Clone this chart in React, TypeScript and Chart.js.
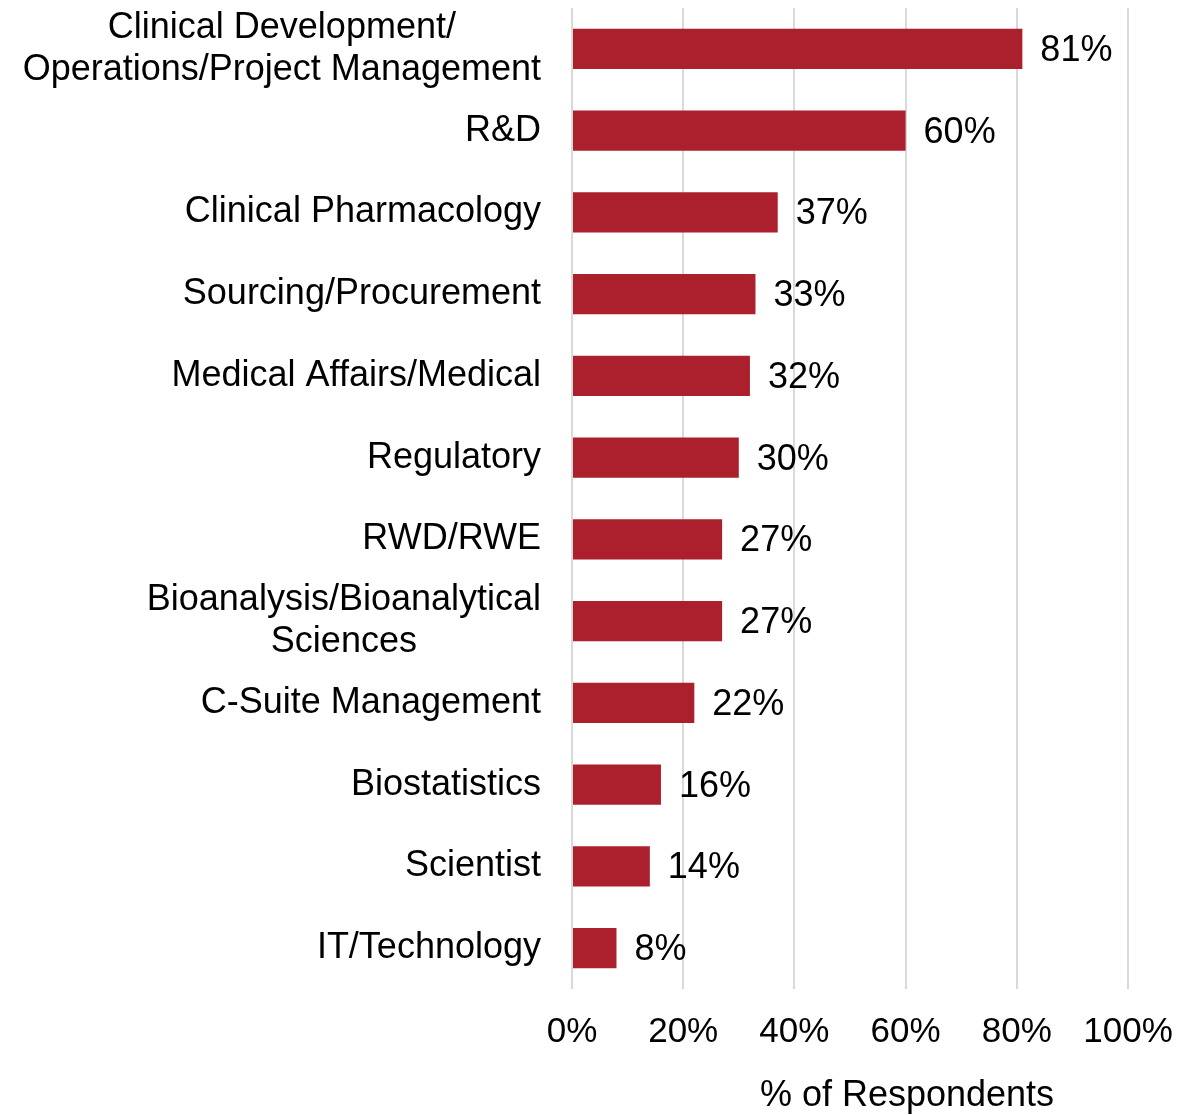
import React, { useEffect, useRef } from "react";
import { Chart, registerables } from "chart.js";

Chart.register(...registerables);

const categories: string[][] = [
  ["Clinical Development/", "Operations/Project Management"],
  ["R&D"],
  ["Clinical Pharmacology"],
  ["Sourcing/Procurement"],
  ["Medical Affairs/Medical"],
  ["Regulatory"],
  ["RWD/RWE"],
  ["Bioanalysis/Bioanalytical", "Sciences"],
  ["C-Suite Management"],
  ["Biostatistics"],
  ["Scientist"],
  ["IT/Technology"],
];
const values: number[] = [81, 60, 37, 33, 32, 30, 27, 27, 22, 16, 14, 8];
const xTicks: number[] = [0, 20, 40, 60, 80, 100];
const axisTitle = "% of Respondents";

const FONT = "'Liberation Sans', Arial, sans-serif";
const FS = 36;
const TICK_FS = 35;

export default function App() {
  const ref = useRef<HTMLCanvasElement | null>(null);
  useEffect(() => {
    if (!ref.current) return;
    const labelsPlugin = {
      id: "customText",
      afterDraw(chart: any) {
        const ctx = chart.ctx;
        const xs = chart.scales.x;
        const ys = chart.scales.y;
        ctx.save();
        ctx.font = `${FS}px ${FONT}`;
        ctx.fillStyle = "#000";
        ctx.textBaseline = "middle";
        // category labels
        const right = chart.chartArea.left - 31;
        const lh = 42;
        categories.forEach((lines, i) => {
          const cy = ys.getPixelForValue(i);
          const maxW = Math.max(...lines.map((l) => ctx.measureText(l).width));
          const cx = right - maxW / 2;
          ctx.textAlign = "center";
          lines.forEach((l, j) => {
            const y = cy + (j - (lines.length - 1) / 2) * lh;
            ctx.fillText(l, cx, y);
          });
        });
        // value labels
        ctx.textAlign = "left";
        values.forEach((v, i) => {
          ctx.fillText(v + "%", xs.getPixelForValue(v) + 18, ys.getPixelForValue(i) + 2);
        });
        // axis title
        ctx.textAlign = "center";
        ctx.fillText(axisTitle, 907, 1096);
        ctx.restore();
      },
    };
    const chart = new Chart(ref.current, {
      type: "bar",
      data: {
        labels: categories.map((c) => c.join(" ")),
        datasets: [
          {
            data: values,
            backgroundColor: "#AC1F2D",
            barPercentage: 0.49,
            categoryPercentage: 1,
          },
        ],
      },
      options: {
        indexAxis: "y",
        animation: false,
        responsive: false,
        maintainAspectRatio: false,
        layout: { padding: { top: 8, right: 53, left: 0, bottom: 0 } },
        plugins: { legend: { display: false }, tooltip: { enabled: false } },
        scales: {
          x: {
            min: 0,
            max: 100,
            afterBuildTicks(scale: any) {
              scale.ticks = xTicks.map((v) => ({ value: v }));
            },
            afterFit(scale: any) {
              scale.height = 126;
              scale.paddingLeft = 0;
              scale.paddingRight = 0;
            },
            grid: { color: "#d9d9d9", lineWidth: 2, drawTicks: false },
            border: { display: false },
            ticks: {
              padding: 22,
              color: "#000",
              font: { family: FONT, size: TICK_FS },
              callback: (v: any) => v + "%",
              maxRotation: 0,
            },
          },
          y: {
            afterFit(scale: any) {
              scale.width = 572;
              scale.paddingTop = 0;
              scale.paddingBottom = 0;
            },
            grid: { display: false, drawTicks: false },
            border: { display: false },
            ticks: { display: false },
          },
        },
      },
      plugins: [labelsPlugin],
    });
    return () => chart.destroy();
  }, []);
  return (
    <div style={{ position: "fixed", left: 0, top: 0, width: 1181, height: 1115, background: "#fff" }}>
      <canvas ref={ref} width={1181} height={1115} style={{ width: 1181, height: 1115 }} />
    </div>
  );
}
